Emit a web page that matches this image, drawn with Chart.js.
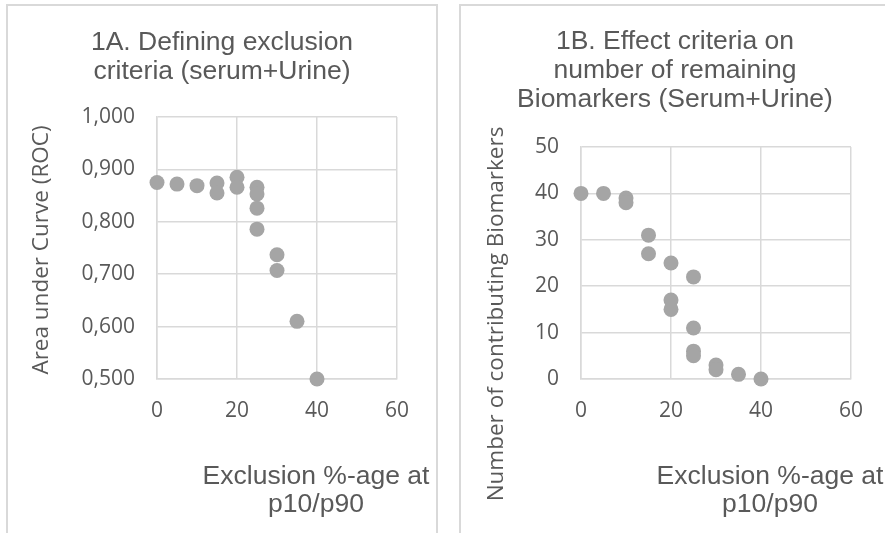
<!DOCTYPE html>
<html>
<head>
<meta charset="utf-8">
<script src="https://cdn.jsdelivr.net/npm/chart.js@4/dist/chart.umd.min.js"></script>
<style>
  html, body { margin: 0; padding: 0; background: #ffffff; overflow: hidden; width: 885px; height: 533px; }
  .panel { position: absolute; top: 4px; width: 428px; height: 560px; border: 2px solid #d9d9d9; background: #fff; }
  #pA { left: 6px; }
  #pB { left: 459px; }
  canvas { display: block; }
</style>
</head>
<body>
<div class="panel" id="pA"><canvas id="cA" width="428" height="560"></canvas></div>
<div class="panel" id="pB"><canvas id="cB" width="428" height="560"></canvas></div>
<script>
// ---- Data ----
const titleA = ['1A. Defining exclusion', 'criteria (serum+Urine)'];
const titleB = ['1B. Effect criteria on', 'number of remaining', 'Biomarkers (Serum+Urine)'];
const xTitle = ['Exclusion %-age at', 'p10/p90'];
const yTitleA = 'Area under Curve (ROC)';
const yTitleB = 'Number of contributing Biomarkers';

const exclusionA = [0, 5, 10, 15, 15, 20, 20, 25, 25, 25, 25, 30, 30, 35, 40];
const aucA = [0.875, 0.872, 0.869, 0.874, 0.855, 0.885, 0.866, 0.866, 0.853, 0.826, 0.786, 0.737, 0.707, 0.610, 0.500];

const exclusionB = [0, 5, 10, 10, 15, 15, 20, 20, 20, 25, 25, 25, 25, 30, 30, 35, 40];
const biomarkersB = [40, 40, 39, 38, 31, 27, 25, 17, 15, 22, 11, 6, 5, 3, 2, 1, 0];

const xTickValues = [0, 20, 40, 60];
const xTickLabels = ['0', '20', '40', '60'];
const yTickValuesA = [0.5, 0.6, 0.7, 0.8, 0.9, 1.0];
const yTickLabelsA = ['0,500', '0,600', '0,700', '0,800', '0,900', '1,000'];
const yTickValuesB = [0, 10, 20, 30, 40, 50];
const yTickLabelsB = ['0', '10', '20', '30', '40', '50'];

// ---- Styling ----
const TEXT = '#595959';
const GRID = '#d9d9d9';
const POINT = '#a5a5a5';

function lookup(values, labels, v) {
  for (let i = 0; i < values.length; i++) {
    if (Math.abs(values[i] - v) < 1e-6) return labels[i];
  }
  return '';
}

const axisTitles = {
  id: 'axisTitles',
  afterDraw(chart, args, opts) {
    const ctx = chart.ctx;
    const a = chart.chartArea;
    ctx.save();
    ctx.fillStyle = TEXT;
    ctx.textAlign = 'center';
    ctx.textBaseline = 'middle';
    // x title
    ctx.font = '26.5px "Liberation Sans", Arial, sans-serif';
    opts.xLines.forEach((t, i) => {
      ctx.fillText(t, a.right - 81, a.bottom + 98 + i * 28);
    });
    // y title
    ctx.font = '22.5px "Open Sans", sans-serif';
    ctx.translate(a.left + opts.yDx, a.top + opts.yDy);
    ctx.rotate(-Math.PI / 2);
    ctx.fillText(opts.yText, 0, 0);
    ctx.restore();
  }
};

function makeChart(id, xs, ys, cfg) {
  const pts = xs.map((x, i) => ({ x: x, y: ys[i] }));
  return new Chart(document.getElementById(id), {
    type: 'scatter',
    data: {
      datasets: [{
        data: pts,
        backgroundColor: POINT,
        borderWidth: 0,
        pointRadius: 7.5,
        pointHoverRadius: 7.5,
        clip: false
      }]
    },
    options: {
      responsive: false,
      animation: false,
      events: [],
      layout: { padding: 0 },
      plugins: {
        legend: { display: false },
        tooltip: { enabled: false },
        title: {
          display: true,
          text: cfg.title,
          color: TEXT,
          font: { family: '"Liberation Sans", Arial, sans-serif', size: 26.5, weight: 'normal', lineHeight: '29px' },
          padding: { top: cfg.titleTop, bottom: cfg.titleBottom }
        },
        axisTitles: { xLines: xTitle, yText: cfg.yText, yDx: cfg.yDx, yDy: cfg.yDy }
      },
      scales: {
        x: {
          type: 'linear',
          min: 0, max: 60,
          afterBuildTicks: (s) => { s.ticks = xTickValues.map(v => ({ value: v })); },
          afterFit: (s) => { s.height = cfg.xHeight; },
          grid: { color: GRID, lineWidth: 1.5, drawTicks: false },
          border: { color: GRID, width: 1.5 },
          ticks: {
            color: TEXT,
            padding: 19,
            font: { family: '"Open Sans", sans-serif', size: 21 },
            callback: (v) => lookup(xTickValues, xTickLabels, v)
          }
        },
        y: {
          type: 'linear',
          min: cfg.yMin, max: cfg.yMax,
          afterBuildTicks: (s) => { s.ticks = cfg.yVals.map(v => ({ value: v })); },
          afterFit: (s) => { s.width = cfg.yWidth; },
          grid: { color: GRID, lineWidth: 1.5, drawTicks: false },
          border: { color: GRID, width: 1.5 },
          ticks: {
            color: TEXT,
            padding: 22,
            font: { family: '"Open Sans", sans-serif', size: 21 },
            callback: (v) => lookup(cfg.yVals, cfg.yLabels, v)
          }
        },
        spacer: {
          type: 'linear',
          position: 'right',
          display: true,
          afterFit: (s) => { s.width = cfg.rightPad; },
          grid: { display: false, drawTicks: false },
          border: { display: false },
          ticks: { display: false }
        }
      }
    },
    plugins: [axisTitles]
  });
}

// Canvas A origin at page (8,6); Canvas B origin at page (461,6)
makeChart('cA', exclusionA, aucA, {
  title: titleA, titleTop: 22, titleBottom: 31,
  yMin: 0.5, yMax: 1.0, yVals: yTickValuesA, yLabels: yTickLabelsA,
  yWidth: 149, rightPad: 39, xHeight: 560 - 373,
  yText: yTitleA, yDx: -115, yDy: 133
});
makeChart('cB', exclusionB, biomarkersB, {
  title: titleB, titleTop: 21, titleBottom: 33,
  yMin: 0, yMax: 50, yVals: yTickValuesB, yLabels: yTickLabelsB,
  yWidth: 120, rightPad: 38, xHeight: 560 - 373,
  yText: yTitleB, yDx: -84, yDy: 167
});
</script>
</body>
</html>
